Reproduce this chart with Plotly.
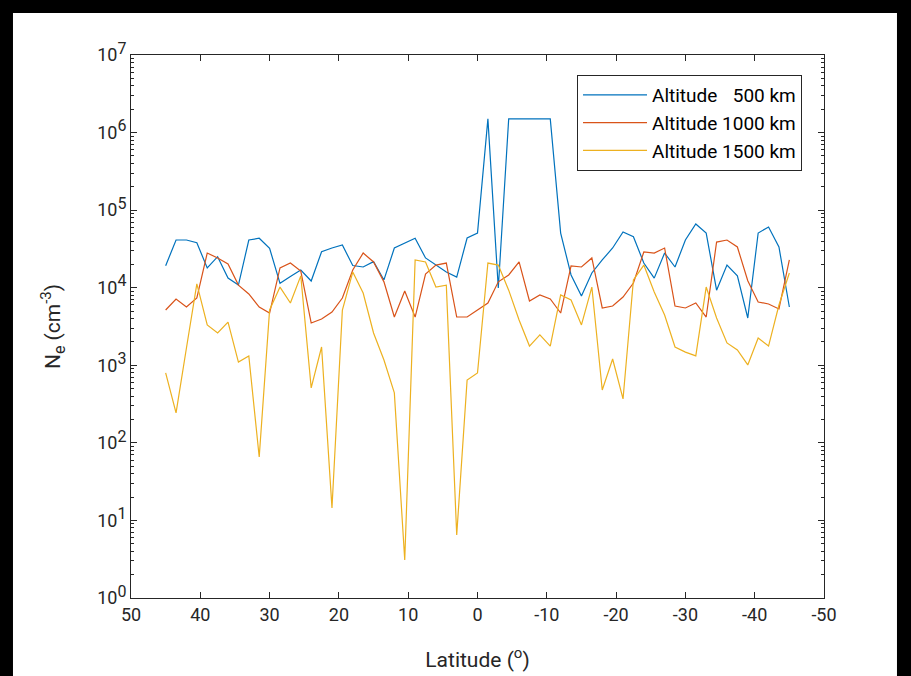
import plotly.graph_objects as go

# Latitude grid (degrees), 45N to 45S in 1.5 degree steps
latitude = [45 - 1.5 * i for i in range(61)]

# Electron density (cm^-3) along the track at three altitudes
ne_500 = [19200, 41200, 41200, 38000, 18000, 25100, 13300, 10800, 41200, 43400,
          32200, 11400, 13900, 16900, 12200, 29100, 32500, 35500, 19300, 18500,
          21700, 12600, 32500, 37700, 43400, 24200, 19600, 15900, 13700, 43700,
          50700, 1.5e6, 9900, 1.5e6, 1.5e6, 1.5e6, 1.5e6, 1.5e6, 50700, 14600,
          7800, 15500, 22800, 32500, 52300, 45500, 20800, 13300, 28000, 18500,
          41200, 66300, 50700, 9300, 19600, 14200, 4070, 50700, 60600, 33500,
          5640]

ne_1000 = [5160, 7160, 5640, 7370, 28000, 24200, 20200, 10800, 8300, 5640,
           4720, 18000, 20800, 16400, 3510, 3950, 4860, 7370, 16900, 28000,
           21500, 11900, 4190, 9080, 4190, 15000, 19600, 20800, 4190, 4190,
           5160, 6350, 11900, 14600, 21500, 6740, 8060, 7160, 4720, 19100,
           18500, 24200, 5480, 5810, 7590, 11500, 28900, 28000, 32500, 5810,
           5480, 6350, 4190, 38800, 41200, 33500, 12300, 6550, 6170, 5320,
           22800]

ne_1500 = [796, 243, 1670, 11200, 3310, 2610, 3610, 1100, 1320, 65.7,
           5160, 10200, 6350, 14200, 510, 1720, 14.5, 5160, 15900, 8550,
           2610, 1170, 440, 3.09, 22800, 21500, 10200, 10800, 6.49, 646,
           796, 20800, 19600, 9300, 3840, 1770, 2460, 1770, 8060, 6950,
           3310, 10200, 480, 1205, 368, 12600, 19600, 8810, 4450, 1720,
           1480, 1320, 10200, 4070, 1940, 1575, 1010, 2250, 1770, 5990,
           15500]

series_names = ["Altitude\u2007 500 km", "Altitude 1000 km", "Altitude 1500 km"]
series_colors = ["#0072BD", "#D95319", "#EDB120"]

x_ticks = [50, 40, 30, 20, 10, 0, -10, -20, -30, -40, -50]
y_exponents = list(range(8))
y_ticks = [10.0 ** p for p in y_exponents]
y_tick_text = ["10<sup><span style='font-size:16px'>%d</span></sup>" % p for p in y_exponents]
# minor ticks at 2..9 x 10^n
y_minor = [m * 10.0 ** p for p in range(7) for m in range(2, 10)]

font_family = "Roboto"
ink = "#262626"

fig = go.Figure()
for values, name, color in zip([ne_500, ne_1000, ne_1500], series_names, series_colors):
    fig.add_trace(go.Scatter(
        x=latitude, y=values, mode="lines", name=name, legendgroup=name,
        line=dict(color=color, width=1.2),
    ))

# white canvas framed by a black border
fig.add_shape(type="rect", xref="paper", yref="paper",
              x0=-0.1703, x1=1.1053, y0=-0.1436, y1=1.0773,
              fillcolor="white", line=dict(width=0), layer="below")

axis_common = dict(
    showgrid=False, zeroline=False, showline=True, linecolor=ink,
    linewidth=1, mirror="ticks", ticks="inside", tickcolor=ink,
    ticklen=6, tickfont=dict(family=font_family, size=18, color=ink),
    automargin=False,
)

fig.update_layout(
    width=911, height=676,
    margin=dict(l=131, r=87, t=55, b=78),
    paper_bgcolor="black", plot_bgcolor="white",
    font=dict(family=font_family, color=ink),
    xaxis=dict(
        range=[50, -50], tickvals=x_ticks, ticktext=[str(v) for v in x_ticks],
        title=dict(text="Latitude (<sup><span style='font-size:15px'>o</span></sup>)",
                   font=dict(size=21), standoff=28),
        **axis_common,
    ),
    yaxis=dict(
        type="log", range=[0, 7], tickvals=y_ticks, ticktext=y_tick_text,
        title=dict(text="N<sub><span style='font-size:16px'>e</span></sub> "
                        "(cm<sup><span style='font-size:15px'>-3</span></sup>)",
                   font=dict(size=21), standoff=30),
        **axis_common,
    ),
    yaxis2=dict(
        type="log", range=[0, 7], overlaying="y", side="left",
        tickvals=y_minor, showticklabels=False, automargin=False,
        showgrid=False, zeroline=False, showline=False,
        ticks="inside", ticklen=3, tickcolor=ink, mirror="ticks",
    ),
    legend=dict(
        x=0.6436, y=0.963, xanchor="left", yanchor="top",
        bgcolor="white", bordercolor=ink, borderwidth=1,
        font=dict(family=font_family, size=19, color="black"),
        itemwidth=64, tracegroupgap=0,
    ),
    showlegend=True,
)

# invisible carrier so the minor-tick axis is drawn
fig.add_trace(go.Scatter(x=[None], y=[None], yaxis="y2", showlegend=False,
                         hoverinfo="skip"))

fig.write_html("out.html")
